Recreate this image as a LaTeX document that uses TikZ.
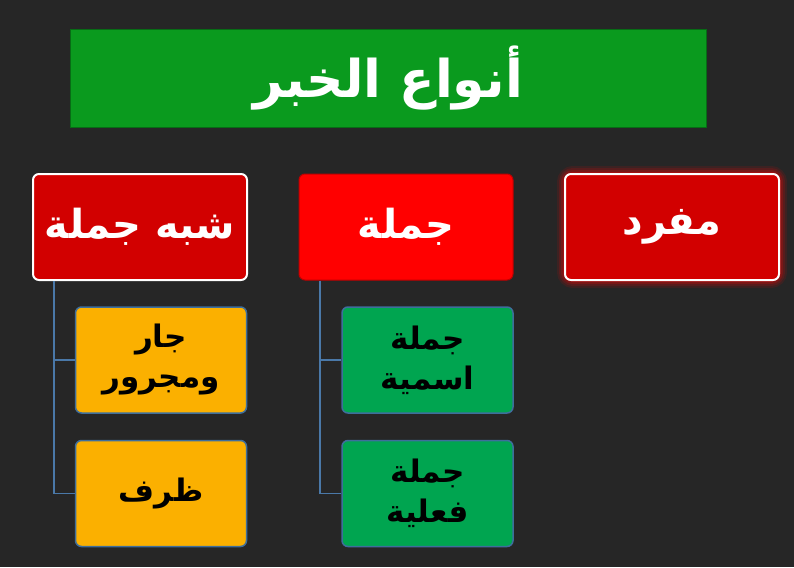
\documentclass[tikz,border=0pt]{standalone}
\usepackage{fontspec}
\newfontfamily\arabicfont[Script=Arabic]{DejaVu Sans}
\TeXXeTstate=1
\begin{document}
\begin{tikzpicture}[x=1pt,y=-1pt,
  base/.style={rounded corners=6pt, inner sep=0pt, font=\arabicfont\bfseries, align=center},
  titlebox/.style={base, fill=titlegreen, draw=titlegreen!70!black, line width=1pt, rounded corners=0pt,
     minimum width=636pt, minimum height=97pt, text=white, font=\arabicfont\bfseries\fontsize{52}{56}\selectfont},
  headbox/.style={base, minimum width=214pt, minimum height=106pt, text=white,
     font=\arabicfont\bfseries\fontsize{40}{44}\selectfont},
  subbox/.style={base, minimum width=171pt, minimum height=106pt, draw=subedge, line width=1.5pt,
     font=\arabicfont\bfseries\fontsize{31}{40}\selectfont},
  link/.style={draw=linkblue, line width=1.5pt}
]
\definecolor{bg}{HTML}{262626}
\definecolor{titlegreen}{HTML}{0A9A1E}
\definecolor{redA}{HTML}{D20000}
\definecolor{redB}{HTML}{FF0000}
\definecolor{orangeb}{HTML}{FBB000}
\definecolor{greenb}{HTML}{00A550}
\definecolor{subedge}{HTML}{3E6E9C}
\definecolor{linkblue}{HTML}{4A78A8}
\useasboundingbox[fill=bg] (0,0) rectangle (794,567);

% glow behind mufrad
\foreach \w/\o in {16/0.10,12/0.14,8/0.2,4/0.3}{
  \draw[red, line width=\w pt, opacity=\o, rounded corners=8pt] (565,174) rectangle (779,280);
}

\node[titlebox] (title) at (388,78.5) {\beginR أنواع الخبر\endR};

\node[headbox, fill=redA, draw=white, line width=2pt] (shibh) at (140,227) {\beginR شبه جملة\endR};
\node[headbox, fill=redB, draw=red!75!black, line width=1pt] (jumla) at (406,227) {\beginR جملة\endR};
\node[headbox, fill=redA, draw=white, line width=2pt] (mufrad) at (672,227) {\beginR مفرد\endR};

\node[subbox, fill=orangeb] (jar) at (161,360) {\beginR جار\endR\\\beginR ومجرور\endR};
\node[subbox, fill=orangeb] (zarf) at (161,493.5) {\beginR ظرف\endR};
\node[subbox, fill=greenb] (ismiya) at (427.5,360) {\beginR جملة\endR\\\beginR اسمية\endR};
\node[subbox, fill=greenb] (filiya) at (427.5,493.5) {\beginR جملة\endR\\\beginR فعلية\endR};

\coordinate (s0) at ([xshift=-86pt]shibh.south);
\coordinate (j0) at ([xshift=-86pt]jumla.south);
\draw[link] (s0) |- (jar.west);
\draw[link] (s0) |- (zarf.west);
\draw[link] (j0) |- (ismiya.west);
\draw[link] (j0) |- (filiya.west);
\end{tikzpicture}
\end{document}
